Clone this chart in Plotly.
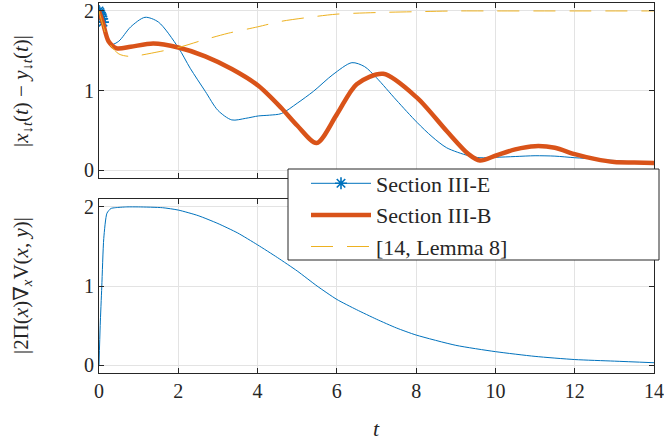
import plotly.graph_objects as go

# ---- data ----
t_e = [0, 0.02, 0.04, 0.06, 0.08, 0.1, 0.2, 0.32, 0.5, 0.8, 1.16, 1.5, 2.0, 2.3, 2.68, 3.0, 3.35, 3.7,
       4.02, 4.3, 4.6, 5.0, 5.41, 5.9, 6.38, 6.7, 7.0, 7.5, 8.02, 8.4, 8.77, 9.32, 9.61, 10.0, 10.5,
       11.0, 11.5, 12.0, 12.5, 13.0, 13.5, 14.0]
y_e = [2.0, 1.98, 1.96, 1.93, 1.90, 1.86, 1.70, 1.58, 1.62, 1.80, 1.92, 1.86, 1.54, 1.28, 0.99, 0.75,
       0.63, 0.65, 0.68, 0.69, 0.71, 0.84, 0.99, 1.20, 1.35, 1.30, 1.16, 0.88, 0.60, 0.42, 0.28, 0.18,
       0.155, 0.16, 0.17, 0.18, 0.175, 0.155, 0.14, 0.12, 0.10, 0.09]
n_star = 6  # number of star markers at the start of the Section III-E curve

t_b = [0, 0.1, 0.24, 0.45, 0.8, 1.37, 2.0, 2.68, 3.35, 4.02, 4.6, 5.0, 5.49, 6.0, 6.5, 7.17, 8.02,
       8.77, 9.32, 9.61, 10.0, 10.5, 11.0, 11.5, 12.0, 12.5, 13.0, 13.5, 14.0]
y_b = [2.0, 1.85, 1.62, 1.53, 1.55, 1.59, 1.54, 1.43, 1.27, 1.06, 0.78, 0.56, 0.34, 0.70, 1.08, 1.21,
       0.91, 0.49, 0.20, 0.12, 0.18, 0.26, 0.30, 0.28, 0.20, 0.14, 0.10, 0.095, 0.09]

t_l = [0, 0.1, 0.25, 0.5, 0.74, 1.0, 1.33, 2.0, 2.6, 3.26, 4.0, 4.6, 5.3, 6.0, 7.0, 7.93, 9.0, 10,
       12, 14]
y_l = [2.0, 1.82, 1.60, 1.46, 1.43, 1.44, 1.47, 1.54, 1.63, 1.72, 1.80, 1.87, 1.92, 1.96, 1.98, 1.99,
       2.0, 2.0, 2.0, 2.0]

t_v = [0, 0.03, 0.07, 0.12, 0.2, 0.3, 0.41, 0.7, 1.0, 1.6, 2.0, 2.5, 3.0, 3.5, 4.0, 4.5, 5.0, 5.5,
       6.0, 6.5, 7.0, 7.5, 8.0, 9.0, 10.0, 11.0, 12.0, 13.0, 14.0]
y_v = [0, 0.5, 0.99, 1.6, 1.92, 1.98, 1.99, 2.0, 2.0, 1.99, 1.96, 1.89, 1.79, 1.67, 1.52, 1.36, 1.19,
       1.0, 0.83, 0.70, 0.58, 0.47, 0.38, 0.25, 0.17, 0.11, 0.07, 0.05, 0.03]

x_ticks = [0, 2, 4, 6, 8, 10, 12, 14]
y_ticks = [0, 1, 2]

names = ["Section III-E", "Section III-B", "[14, Lemma 8]"]
ylabel_top = "|<i>x</i><sub>↓<i>t</i></sub>(<i>t</i>) − <i>y</i><sub>↓<i>t</i></sub>(<i>t</i>)|"
ylabel_bot = "|2Π(<i>x</i>)∇<sub><i>x</i></sub>V(<i>x</i>, <i>y</i>)|"
xlabel = "<i>t</i>"

BLUE, ORANGE, YELLOW = "#0072BD", "#D95319", "#EDB120"
INK = "#262626"
FONT = "Liberation Serif, Times New Roman, DejaVu Serif, serif"

W, H = 664, 443
ML, MR, MT, MB = 99, 10, 3, 70
PW, PH = W - ML - MR, H - MT - MB


def px_x(p):  # pixel -> paper x
    return (p - ML) / PW


def px_y(p):  # pixel -> paper y
    return (H - MB - p) / PH


fig = go.Figure()

fig.add_trace(go.Scatter(
    x=t_e, y=y_e, mode="lines+markers", name=names[0],
    line=dict(color=BLUE, width=1, shape="spline", smoothing=0.8),
    marker=dict(symbol="asterisk-open", color=BLUE, size=10,
                line=dict(color=BLUE, width=1.6)),
    selectedpoints=list(range(n_star)),
    selected=dict(marker=dict(opacity=1)),
    unselected=dict(marker=dict(opacity=0)),
    xaxis="x", yaxis="y"))
fig.add_trace(go.Scatter(
    x=t_b, y=y_b, mode="lines", name=names[1],
    line=dict(color=ORANGE, width=4.5, shape="spline", smoothing=0.8),
    xaxis="x", yaxis="y"))
fig.add_trace(go.Scatter(
    x=t_l, y=y_l, mode="lines", name=names[2],
    line=dict(color=YELLOW, width=1, dash="22px,14px", shape="spline", smoothing=0.8),
    xaxis="x", yaxis="y"))
fig.add_trace(go.Scatter(
    x=t_v, y=y_v, mode="lines", showlegend=False,
    line=dict(color=BLUE, width=1, shape="spline", smoothing=0.6),
    xaxis="x2", yaxis="y2"))

axis_common = dict(
    showline=True, linecolor=INK, linewidth=1, mirror="ticks",
    ticks="inside", ticklen=5, tickcolor=INK, tickwidth=1,
    showgrid=True, gridcolor="#e3e3e3", gridwidth=1, zeroline=False,
    tickfont=dict(family=FONT, size=20, color=INK), automargin=False,
    ticklabeloverflow="allow",
)

# legend box (drawn above the traces, under the legend entries)
fig.add_shape(type="rect", xref="paper", yref="paper",
              x0=px_x(288), x1=px_x(659), y0=px_y(260), y1=px_y(169),
              fillcolor="white", line=dict(color=INK, width=1), layer="above")

fig.add_annotation(text=ylabel_top, xref="paper", yref="paper", x=px_x(22), y=px_y(91),
                   textangle=-90, showarrow=False, xanchor="center", yanchor="middle",
                   font=dict(family=FONT, size=21, color=INK))
fig.add_annotation(text=ylabel_bot, xref="paper", yref="paper", x=px_x(22), y=px_y(286),
                   textangle=-90, showarrow=False, xanchor="center", yanchor="middle",
                   font=dict(family=FONT, size=21, color=INK))
fig.add_annotation(text=xlabel, xref="paper", yref="paper", x=px_x(376), y=px_y(428),
                   showarrow=False, xanchor="center", yanchor="middle",
                   font=dict(family=FONT, size=22, color=INK))

fig.update_layout(
    width=W, height=H,
    margin=dict(l=ML, r=MR, t=MT, b=MB, autoexpand=False),
    paper_bgcolor="white", plot_bgcolor="white",
    font=dict(family=FONT, color=INK),
    xaxis=dict(domain=[0, 1], range=[0, 14], tickvals=x_ticks, showticklabels=False,
               anchor="y", **axis_common),
    yaxis=dict(domain=[px_y(178), 1], range=[-0.1, 2.1], tickvals=y_ticks, anchor="x",
               **axis_common),
    xaxis2=dict(domain=[0, 1], range=[0, 14], tickvals=x_ticks, anchor="y2", **axis_common),
    yaxis2=dict(domain=[0, px_y(199)], range=[-0.1, 2.1], tickvals=y_ticks, anchor="x2",
                **axis_common),
    legend=dict(x=px_x(306), y=px_y(215), xanchor="left", yanchor="middle",
                bgcolor="rgba(0,0,0,0)", borderwidth=0,
                font=dict(family=FONT, size=22, color=INK),
                itemwidth=60, tracegroupgap=0),
    showlegend=True,
    dragmode=False,
)

fig.write_html("out.html", config={"displayModeBar": False, "staticPlot": False},
               post_script="document.body.style.margin='0';document.body.style.overflow='hidden';")
